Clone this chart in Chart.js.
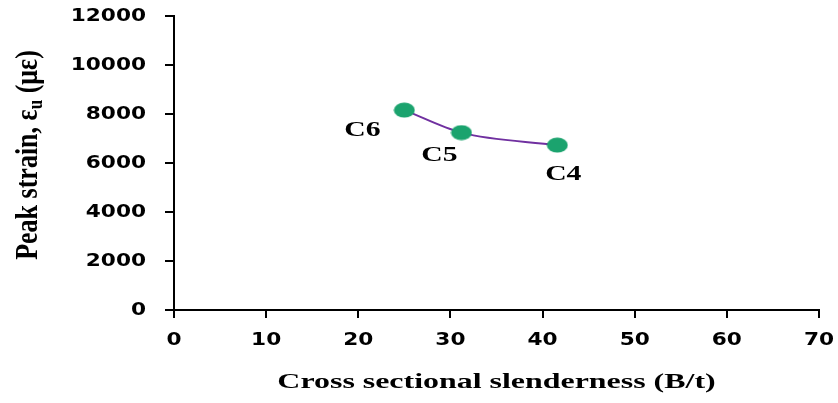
<!DOCTYPE html>
<html>
<head>
<meta charset="utf-8">
<script src="https://cdn.jsdelivr.net/npm/chart.js@4.4.0/dist/chart.umd.min.js"></script>
<style>
  html, body { margin: 0; padding: 0; background: #fff; }
  #wrap { width: 838px; height: 403px; }
</style>
</head>
<body>
<div id="wrap"><canvas id="strainChart" width="838" height="403"></canvas></div>
<script>
// specimen data
const specimens = ['C6', 'C5', 'C4'];
const slenderness = [25.0, 31.2, 41.6];
const peakStrain = [8160, 7240, 6730];

const xTicks = [0, 10, 20, 30, 40, 50, 60, 70];
const yTicks = [0, 2000, 4000, 6000, 8000, 10000, 12000];

// label offsets next to each point (px)
const labelOffsets = [[-42, 20], [-22, 23], [6, 29]];

const points = slenderness.map((x, i) => ({ x: x, y: peakStrain[i] }));

// the original picture is stretched sideways, so the dots are ellipses
function makeDot() {
  const c = document.createElement('canvas');
  c.width = 22; c.height = 16;
  const g = c.getContext('2d');
  g.fillStyle = '#1BA36E';
  g.beginPath();
  g.ellipse(11, 8, 10.5, 7.5, 0, 0, Math.PI * 2);
  g.fill();
  return c;
}

// text drawn wider than the font, like the source image
function wideText(ctx, text, x, y, font, stretch) {
  ctx.save();
  ctx.font = font;
  ctx.translate(x, y);
  ctx.scale(stretch, 1);
  ctx.fillText(text, 0, 0);
  ctx.restore();
}

const annotate = {
  id: 'annotate',
  afterDraw(chart) {
    const ctx = chart.ctx;
    const xs = chart.scales.x, ys = chart.scales.y;
    const area = chart.chartArea;
    ctx.save();
    ctx.fillStyle = '#000';
    ctx.textBaseline = 'middle';

    // tick labels
    const tickFont = 'bold 18.5px "DejaVu Sans"';
    ctx.textAlign = 'right';
    yTicks.forEach(v => wideText(ctx, String(v), area.left - 28, ys.getPixelForValue(v), tickFont, 1.17));
    ctx.textAlign = 'center';
    xTicks.forEach(v => wideText(ctx, String(v), xs.getPixelForValue(v), area.bottom + 30, tickFont, 1.17));

    // point names
    specimens.forEach((name, i) => {
      const px = xs.getPixelForValue(slenderness[i]) + labelOffsets[i][0];
      const py = ys.getPixelForValue(peakStrain[i]) + labelOffsets[i][1];
      wideText(ctx, name, px, py, 'bold 22px "Liberation Serif"', 1.35);
    });

    // x title
    wideText(ctx, 'Cross sectional slenderness (B/t)', (area.left + area.right) / 2, 383, 'bold 21px "Liberation Serif"', 1.52);

    // y title, rotated, with subscript u
    ctx.translate(29, 155);
    ctx.rotate(-Math.PI / 2);
    ctx.scale(1, 1.25);
    ctx.textAlign = 'left';
    const big = 'bold 26px "Liberation Serif"';
    const small = 'bold 17px "Liberation Serif"';
    const parts = [['Peak strain, ε', big, 0], ['u', small, 6], [' (με)', big, 0]];
    let total = 0;
    parts.forEach(p => { ctx.font = p[1]; total += ctx.measureText(p[0]).width; });
    let cx = -total / 2;
    parts.forEach(p => {
      ctx.font = p[1];
      ctx.fillText(p[0], cx, p[2]);
      cx += ctx.measureText(p[0]).width;
    });
    ctx.restore();
  }
};

new Chart(document.getElementById('strainChart'), {
  type: 'scatter',
  data: {
    datasets: [{
      data: points,
      showLine: true,
      cubicInterpolationMode: 'monotone',
      borderColor: '#7030A0',
      borderWidth: 2,
      pointStyle: makeDot(),
      pointRadius: 8,
      pointHoverRadius: 8
    }]
  },
  options: {
    responsive: false,
    animation: false,
    layout: { padding: { top: 16, right: 19, left: 0, bottom: 0 } },
    plugins: { legend: { display: false }, tooltip: { enabled: false } },
    scales: {
      x: {
        type: 'linear',
        min: 0, max: 70,
        afterBuildTicks: s => { s.ticks = xTicks.map(v => ({ value: v })); },
        afterFit: s => { s.height = 93; },
        border: { color: '#000', width: 2 },
        grid: { drawOnChartArea: false, color: '#000', lineWidth: 2, tickLength: 8 },
        ticks: { display: false }
      },
      y: {
        min: 0, max: 12000,
        afterBuildTicks: s => { s.ticks = yTicks.map(v => ({ value: v })); },
        afterFit: s => { s.width = 174; },
        border: { color: '#000', width: 2 },
        grid: { drawOnChartArea: false, color: '#000', lineWidth: 2, tickLength: 9 },
        ticks: { display: false }
      }
    }
  },
  plugins: [annotate]
});
</script>
</body>
</html>
